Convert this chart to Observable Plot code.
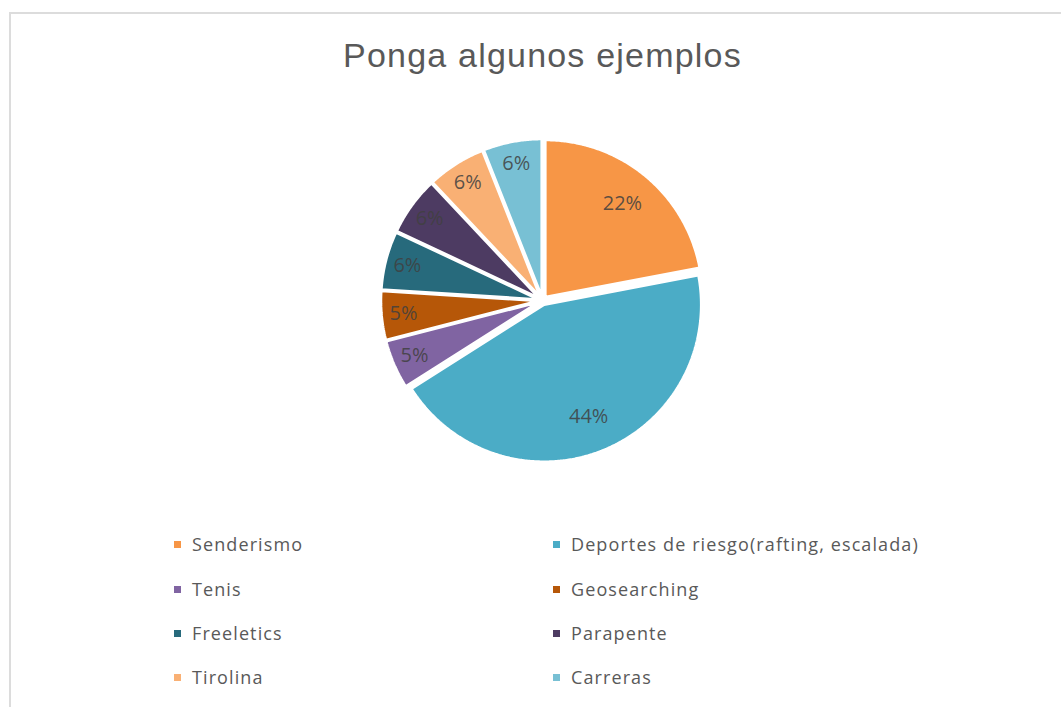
<!DOCTYPE html>
<html><head><meta charset="utf-8">
<script src="https://cdn.jsdelivr.net/npm/d3@7"></script>
<script src="https://cdn.jsdelivr.net/npm/@observablehq/plot@0.6"></script>
<style>
html,body{margin:0;padding:0;background:#fff;}
#chart{position:relative;width:1061px;height:707px;overflow:hidden;background:#fff;}
#frame{position:absolute;left:9px;top:12px;width:1100px;height:720px;border-left:2px solid #dcdcdc;border-top:2px solid #dcdcdc;}
#title{position:absolute;left:12px;width:1061px;top:38px;text-align:center;font-family:"Liberation Sans",Arial,sans-serif;font-size:34px;line-height:1;letter-spacing:1.2px;color:#595959;}
#pie{position:absolute;}
.leg{position:absolute;height:24px;display:flex;align-items:center;font-family:"Open Sans",sans-serif;font-size:18px;color:#595959;letter-spacing:1.1px;white-space:nowrap;}
.leg .mk{width:7px;height:7px;margin-right:11px;flex:none;}
</style>
</head><body>
<div id="chart">
  <div id="frame"></div>
  <div id="title">Ponga algunos ejemplos</div>
  <div id="pie"></div>
</div>
<script>
const categories = ["Senderismo","Deportes de riesgo(rafting, escalada)","Tenis","Geosearching","Freeletics","Parapente","Tirolina","Carreras"];
const values = [22,44,5,5,6,6,6,6];
const colors = ["#F79646","#4BACC6","#8064A2","#B65708","#276A7C","#4D3B62","#F9B074","#78C0D4"];
const labels = values.map(v => v + "%");

const R = 157, explode = 4.5;
const cx = 542, cy = 300, W = 400, H = 340;

const arcs = d3.pie().sort(null).value(d => d)(values);
const pts = [];
const lab = [];
arcs.forEach((a, i) => {
  const mid = (a.startAngle + a.endAngle) / 2;
  const ox = explode * Math.sin(mid), oy = -explode * Math.cos(mid);
  pts.push({cat: categories[i], x: ox, y: oy});
  const n = Math.max(4, Math.ceil((a.endAngle - a.startAngle) / (Math.PI / 360)));
  for (let k = 0; k <= n; k++) {
    const t = a.startAngle + (a.endAngle - a.startAngle) * k / n;
    pts.push({cat: categories[i], x: ox + R * Math.sin(t), y: oy - R * Math.cos(t)});
  }
  pts.push({cat: categories[i], x: ox, y: oy});
  const lr = values[i] > 10 ? 0.77 * R : 0.86 * R;
  lab.push({x: ox + lr * Math.sin(mid), y: oy - lr * Math.cos(mid), text: labels[i]});
});

const plot = Plot.plot({
  width: W, height: H,
  margin: 0,
  x: {domain: [-W/2, W/2], range: [0, W], axis: null},
  y: {domain: [-H/2, H/2], range: [0, H], axis: null},
  color: {type: "ordinal", domain: categories, range: colors},
  marks: [
    Plot.line(pts, {x: "x", y: "y", z: "cat", fill: "cat", stroke: "white", strokeWidth: 2.5, strokeLinejoin: "miter"}),
    Plot.text(lab, {x: "x", y: "y", text: "text", fill: "#404040", fontSize: 20, fontFamily: "Open Sans", fillOpacity: 0.85})
  ]
});
const pie = document.getElementById("pie");
pie.style.left = (cx - W/2) + "px";
pie.style.top = (cy - H/2) + "px";
pie.appendChild(plot);

const chart = document.getElementById("chart");
const colX = [174, 553];
const rowY = [544, 589, 633, 677];
categories.forEach((c, i) => {
  const d = document.createElement("div");
  d.className = "leg";
  d.style.left = colX[i % 2] + "px";
  d.style.top = (rowY[Math.floor(i / 2)] - 12) + "px";
  const m = document.createElement("span");
  m.className = "mk";
  m.style.background = colors[i];
  const t = document.createElement("span");
  t.textContent = c;
  d.appendChild(m); d.appendChild(t);
  chart.appendChild(d);
});
</script>
</body></html>
